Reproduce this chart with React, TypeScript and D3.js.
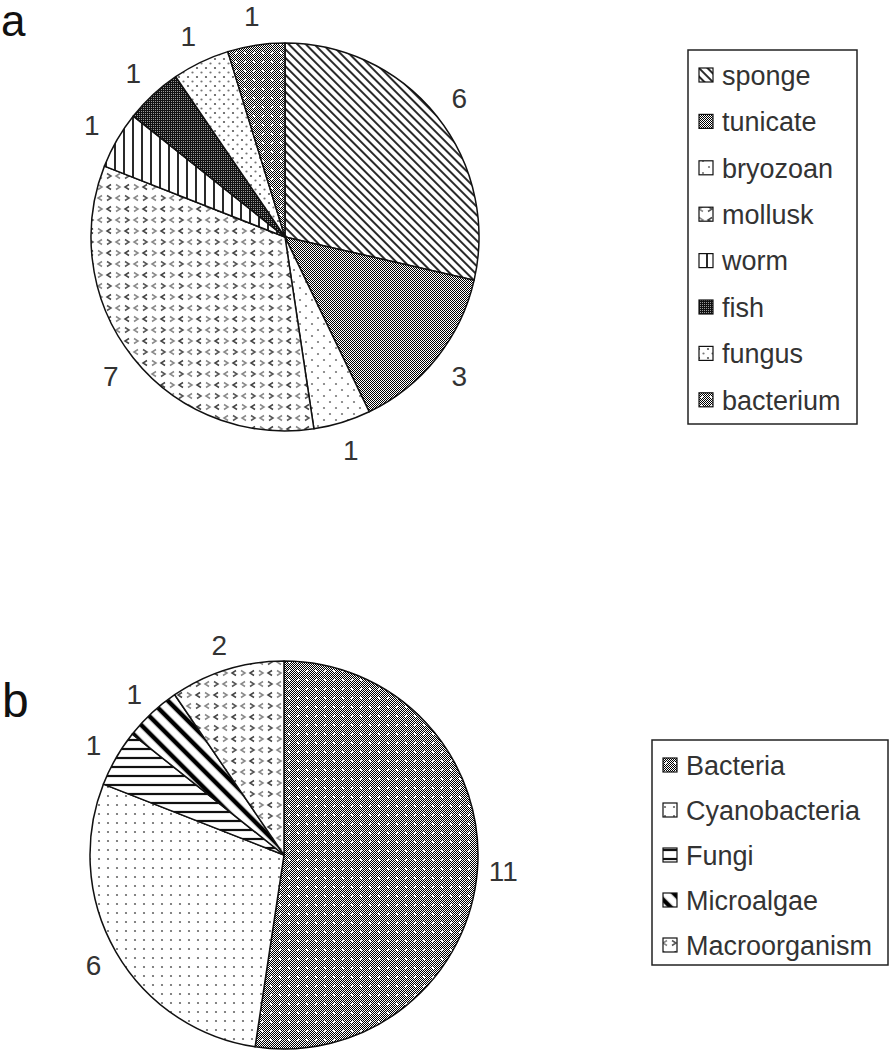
import React from "react";
import * as d3 from "d3";

const pieAItems = ["sponge", "tunicate", "bryozoan", "mollusk", "worm", "fish", "fungus", "bacterium"];
const pieAValues = [6, 3, 1, 7, 1, 1, 1, 1];
const pieAPatterns = ["diag", "checker", "sparse", "chevron", "vert", "dark", "dots", "grayDots"];

const pieBItems = ["Bacteria", "Cyanobacteria", "Fungi", "Microalgae", "Macroorganism"];
const pieBValues = [11, 6, 1, 1, 2];
const pieBPatterns = ["grayDots", "dots9", "horiz", "thickDiag", "chevron"];

const FONT = "'Liberation Sans', Arial, sans-serif";

function Patterns() {
  return (
    <defs>
      <pattern id="diag" width={6} height={6} patternUnits="userSpaceOnUse" patternTransform="rotate(-45)">
        <rect width={6} height={6} fill="#fff" />
        <line x1={1} y1={0} x2={1} y2={6} stroke="#111" strokeWidth={1.8} />
      </pattern>
      <pattern id="checker" width={2} height={2} patternUnits="userSpaceOnUse">
        <rect width={2} height={2} fill="#fff" />
        <rect x={0} y={0} width={1} height={1} fill="#000" />
        <rect x={1} y={1} width={1} height={1} fill="#000" />
      </pattern>
      <pattern id="sparse" width={12} height={12} patternUnits="userSpaceOnUse">
        <rect width={12} height={12} fill="#fff" />
        <circle cx={3} cy={3} r={1.1} fill="#777" />
        <circle cx={9} cy={9} r={1.1} fill="#777" />
      </pattern>
      <pattern id="dots" width={9} height={9} patternUnits="userSpaceOnUse">
        <rect width={9} height={9} fill="#fff" />
        <circle cx={2} cy={2} r={1.1} fill="#555" />
        <circle cx={6.5} cy={6.5} r={1.1} fill="#777" />
      </pattern>
      <pattern id="dots9" width={9} height={9} patternUnits="userSpaceOnUse">
        <rect width={9} height={9} fill="#fff" />
        <circle cx={4} cy={4} r={1.1} fill="#666" />
      </pattern>
      <pattern id="chevron" width={18} height={22} patternUnits="userSpaceOnUse">
        <rect width={18} height={22} fill="#fff" />
        <path d="M2,2.5 L6,5 L2,7.5" fill="none" stroke="#555" strokeWidth={1.5} />
        <path d="M15,2.5 L11,5 L15,7.5" fill="none" stroke="#888" strokeWidth={1.5} />
        <path d="M6,13.5 L2,16 L6,18.5" fill="none" stroke="#444" strokeWidth={1.5} />
        <path d="M11,13.5 L15,16 L11,18.5" fill="none" stroke="#888" strokeWidth={1.5} />
      </pattern>
      <pattern id="vert" width={9} height={9} patternUnits="userSpaceOnUse">
        <rect width={9} height={9} fill="#fff" />
        <line x1={1} y1={0} x2={1} y2={9} stroke="#111" strokeWidth={1.8} />
      </pattern>
      <pattern id="dark" width={2} height={2} patternUnits="userSpaceOnUse">
        <rect width={2} height={2} fill="#111" />
        <rect x={0} y={0} width={1} height={1} fill="#999" />
      </pattern>
      <pattern id="grayDots" width={18} height={18} patternUnits="userSpaceOnUse">
        <rect width={18} height={18} fill="url(#checker)" />
        <rect x={4} y={4} width={2} height={2} fill="#fff" />
        <rect x={13} y={4} width={2} height={2} fill="#eee" />
        <rect x={4} y={13} width={2} height={2} fill="#eee" />
        <rect x={13} y={13} width={2} height={2} fill="#fff" />
      </pattern>
      <pattern id="horiz" width={9} height={9} patternUnits="userSpaceOnUse">
        <rect width={9} height={9} fill="#fff" />
        <line x1={0} y1={2} x2={9} y2={2} stroke="#111" strokeWidth={2.2} />
      </pattern>
      <pattern id="thickDiag" width={12} height={12} patternUnits="userSpaceOnUse" patternTransform="rotate(-45)">
        <rect width={12} height={12} fill="#fff" />
        <line x1={3} y1={0} x2={3} y2={12} stroke="#000" strokeWidth={4.5} />
      </pattern>
    </defs>
  );
}

type PieProps = {
  cx: number;
  cy: number;
  r: number;
  labelR: number;
  values: number[];
  patterns: string[];
};

function Pie({ cx, cy, r, labelR, values, patterns }: PieProps) {
  const pieGen = d3.pie<number>().sort(null).value((d) => d);
  const arcs = pieGen(values);
  const arcGen = d3.arc<d3.PieArcDatum<number>>().innerRadius(0).outerRadius(r);
  const labelArc = d3.arc<d3.PieArcDatum<number>>().innerRadius(labelR).outerRadius(labelR);
  return (
    <g transform={`translate(${cx},${cy})`}>
      {arcs.map((a, i) => (
        <path key={i} d={arcGen(a) || ""} fill={`url(#${patterns[i]})`} stroke="#111" strokeWidth={1.5} strokeLinejoin="round" />
      ))}
      {arcs.map((a, i) => {
        const [x, y] = labelArc.centroid(a);
        return (
          <text key={`l${i}`} x={x} y={y} dy="0.35em" textAnchor="middle" fontFamily={FONT} fontSize={28} fill="#333">
            {a.data}
          </text>
        );
      })}
    </g>
  );
}

type LegendProps = {
  x: number;
  y: number;
  w: number;
  h: number;
  items: string[];
  patterns: string[];
  step: number;
  fontSize: number;
};

function Legend({ x, y, w, h, items, patterns, step, fontSize }: LegendProps) {
  return (
    <g transform={`translate(${x},${y})`}>
      <rect x={0} y={0} width={w} height={h} fill="#fff" stroke="#222" strokeWidth={1.5} />
      {items.map((name, i) => {
        const cy = 25 + i * step;
        return (
          <g key={name}>
            <rect x={11} y={cy - 7} width={14} height={14} fill={`url(#${patterns[i]})`} stroke="#111" strokeWidth={1.2} />
            <text x={34} y={cy} dy="0.36em" fontFamily={FONT} fontSize={fontSize} fill="#333">
              {name}
            </text>
          </g>
        );
      })}
    </g>
  );
}

export default function App() {
  return (
    <div style={{ position: "absolute", left: 0, top: 0 }}>
      <svg width={895} height={1050} style={{ display: "block", background: "#fff" }}>
        <Patterns />
        <text x={1} y={36} fontFamily={FONT} fontSize={44} fill="#111">a</text>
        <text x={2} y={717} fontFamily={FONT} fontSize={48} fill="#111">b</text>
        <Pie cx={285} cy={237} r={194} labelR={223} values={pieAValues} patterns={pieAPatterns} />
        <Legend x={688} y={50} w={169} h={374} items={pieAItems} patterns={pieAPatterns} step={46.4} fontSize={27} />
        <Pie cx={284} cy={855} r={194} labelR={220} values={pieBValues} patterns={pieBPatterns} />
        <Legend x={652} y={740} w={236} h={225} items={pieBItems} patterns={pieBPatterns} step={45} fontSize={27} />
      </svg>
    </div>
  );
}
